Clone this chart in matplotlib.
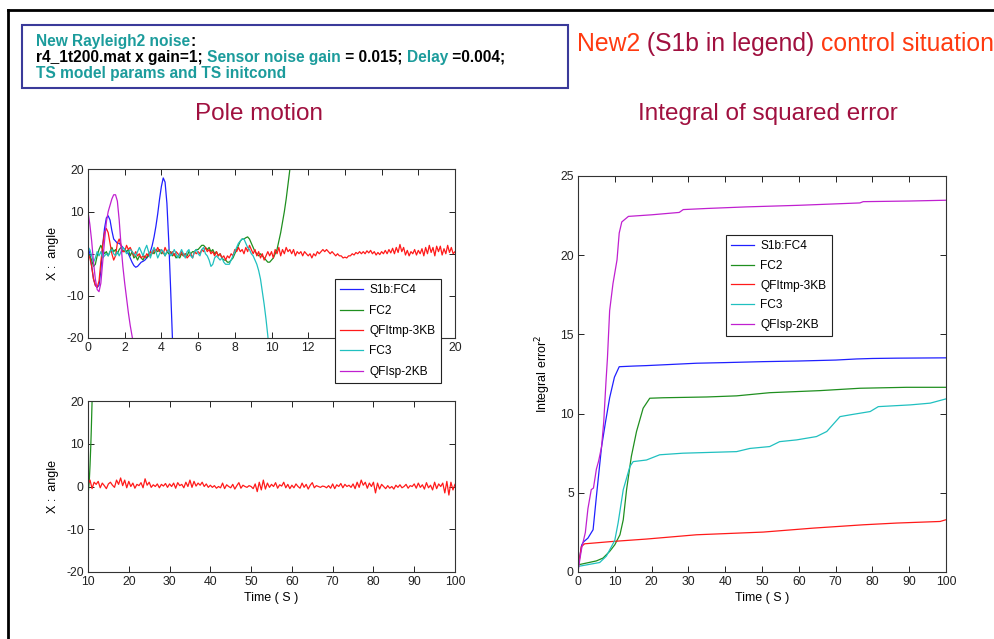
import numpy as np
import matplotlib
matplotlib.use("Agg")
import matplotlib.pyplot as plt
from matplotlib.lines import Line2D
from matplotlib.patches import Rectangle

plt.rcParams["axes.unicode_minus"] = False

# ---------------- data ----------------
labels = ["S1b:FC4", "FC2", "QFItmp-3KB", "FC3", "QFIsp-2KB"]
colors = ["#2020ff", "#1f8f1f", "#ff1a1a", "#20c0c0", "#c020d0"]

# Pole motion, first 20 s (step 0.1 s)
blue_top = [2, 0, -3, -6, -7.5, -8, -7.5, -4, 2, 6, 8.5, 9, 8, 5.5, 3.5, 3, 2.5, 2.5, 2, 1.5,
            1, 0.5, 0, -1, -2, -2.8, -3.2, -3, -2.5, -2, -1.8, -1.5, -1, -0.5, 0.5, 2, 4, 6.5, 9.5, 13,
            16, 18, 17, 12, 3, -8, -20, -27]
green_top = [0, -0.5, -1.5, -3, -2.5, -0.5, 1, 2, 1, 0, 0.5, -0.5, 0.5, 1.5, 0.5, 1, 0, 1, 1.5, 0.5,
             1, 0.5, 1, -0.5, 0.5, -1, -0.5, -1.5, -0.5, -1, -1.5, -0.5, -1, 0, -0.5, 0.5, 0, 1, 0.5, 1,
             0, 0.5, -0.5, 0.5, 0, 0.5, -0.5, 0, -1, -0.5, -1, 0, -0.5, 0, -0.5, 0.5, 0, 0.5, 0.5, 1,
             1, 1.5, 2, 2, 1.5, 1, 1.5, 0.5, 1, 0, 0.5, -0.5, 0, -1, -1.5, -1.5, -2, -2, -1.5, -1,
             0, 1, 2, 3, 3.5, 3.5, 3.8, 4, 3.5, 2.5, 1.5, 0.5, 0, -0.5, 0, -0.5, -1, -1.5, -2, -2,
             -1.5, -1, 0, 1, 3, 5, 7.5, 10, 13, 16.5, 20, 24]
red_top = [0, -1, -3, -6, -7.5, -8, -6.5, -2, 2, 5, 6, 5, 2.5, 0, -1.5, -0.5, 2.5, 3.5, 2, 0.5,
           0.5, 2, 1, 1.5, 0.5, -0.5, 0.5, -0.5, 0, -1, -0.5, -1, 0, -0.5, 0.5, 0, 1, 0.5, 1.5, 0.5,
           1, 0, 1.5, 0.5, 1, 0, 0.5, -0.5, 0.5, 0, -0.5, 0.5, -0.5, 0, -1, -0.5, 0, -1, 0.5, 0,
           0.5, 0, 1, 0.5, 1.5, 0.5, 1, 0, 0.5, -0.5, 0.5, -0.5, 0, -1, -0.5, -1.5, -0.5, -1, 0, -0.5,
           1, 0.5, 1.5, 0.5, 1, 0, 1.5, 0.5, 2, 1, 0, 1, -0.5, 0.5, -1, 0, -1.5, -0.5, 0.5, -0.5,
           0.5, -1, 1, 0, 1.5, -0.5, 1, 0, 1.5, 0.5, 1, 0, 1, -0.5, 0.5, 0, 0.5, -0.5, 0.5, 0,
           -0.5, 0, -1, 0, -0.5, 0.5, 0, 0.5, 1, 0.5, 1, 0.5, 0, 0.5, 0, -0.5, 0, -0.5, -0.5, -1,
           -0.8, -1, -0.5, -0.5, 0, -0.3, 0.3, 0, 0.5, 0, 0.5, 0, 0.7, 0.2, 0.8, 0, 0.5, -0.3, 0.3, -0.2,
           0.5, 0, 0.8, 0, 1, 0.2, 1.3, 0, 1.5, 0.3, 2.2, 0.5, 1.5, -0.3, 0.8, -0.5, 0.5, 0, 1, -0.3,
           0.8, 0, 1.2, -0.5, 1.5, 0, 2, 0.3, 1.5, -0.5, 1.8, 0.5, 1.8, -0.3, 1.2, 0, 2, 0.3, 1.5, 0,
           0.5]
cyan_top = [1.5, 1, -0.5, -2, -1, 0.5, -0.5, 0.5, -1, -0.5, 0, -0.5, 0.5, 1, 0, -0.5, 0.5, -0.5, 0.5, 1.5,
            1, 0, 0.5, 1, 0.5, 0, -0.5, 0.5, 1.5, 0.5, -0.5, 1, 2, 0.5, -1, 0.5, 1.5, 0.5, -1, 0,
            1, 0.5, -0.5, 0.5, 1, -0.5, 0, 1, 0, -1, 0, 1, 0, -1, 0.5, 1, -0.5, -1, 0.5, 1,
            0, -0.5, 1, 1.5, 0, -0.5, -1.5, -3, -2.5, -1, -0.5, -1, -1.5, -1, -2, -2.5, -2.5, -2.5, -1.5, -0.5,
            0.5, 1.5, 2.5, 3, 3.5, 3.5, 2.5, 1.5, 1, 0, -0.5, -1.5, -2.5, -4, -6, -9, -12, -15.5, -19.5, -24]
magenta_top = [10, 7, 3, -2, -6, -8.5, -9, -7, -2, 3, 7.5, 10, 11.5, 13, 14, 14, 12.5, 8, 2, -3,
               -7, -10.5, -14, -17, -19.5, -22]

# Pole motion, 10-100 s (step 0.5 s)
red_bot = [0.5, 1.5, -0.5, 1.0, 0.5, 1.2, -0.3, 0.8, 0.2, -0.5, 0.6, 1.0, 0.3, -0.2, 1.5, 0.5, 2.0, 0.2, 1.5, -0.3,
           1.2, 0.0, 0.8, -0.4, 0.5, 0.2, 0.9, -0.3, 1.8, 0.3, 1.0, -0.2, 0.4, 0.0, 0.6, -0.3, 0.5, 0.1, 0.7, -0.2,
           0.6, 0.0, 0.8, -0.4, 0.9, 0.2, 0.5, -0.3, 1.0, 0.0, 1.5, -0.2, 1.2, 0.1, 0.8, 0.3, 1.0, 0.0, 0.6, -0.2,
           0.3, -0.2, 0.2, -0.4, 0.0, -0.3, 0.8, -0.5, 0.4, 0.0, -0.3, 0.5, -0.6, 0.2, 0.9, -0.4, 0.3, 0.0, -0.2, 0.2,
           0.0, -0.5, 0.6, -1.2, 1.0, -0.8, 1.5, -0.6, 0.8, -0.2, 0.5, 0.0, 0.9, -0.4, 0.4, 0.1, 1.0, -0.3, 0.5, -0.5,
           0.3, -0.3, 0.6, 0.0, -0.4, 0.8, -0.2, 0.5, -0.6, 0.3, 0.9, -0.3, 0.2, 0.0, -0.2, 0.1, 0.0, -0.3, 0.2, -0.4,
           0.6, -0.5, 0.4, 0.0, 0.7, -0.3, 0.5, 0.0, 0.3, -0.2, 0.6, -0.5, 1.0, -0.2, 1.5, 0.3, 1.0, -0.4, 0.8, 0.0,
           1.0, -1.5, 0.8, -0.6, 0.5, 0.0, -0.5, 0.2, -0.4, 0.0, -0.6, 0.3, -0.2, 0.4, -0.3, 0.0, 0.5, -0.4, 0.2, 0.0,
           0.6, -0.4, 0.8, -0.2, 0.4, -0.6, 0.9, -0.3, 0.3, -0.8, 1.0, -0.5, 0.6, 0.0, 0.8, -1.5, 1.2, -2.0, 1.0, -0.8,
           0.5]

# Integral of squared error
blue_int_t = [0, 0.5, 1.0, 1.5, 2.7, 4.1, 5.0, 6.4, 7.5, 8.6, 9.9, 11.2, 15, 18.6, 25, 32.2, 40, 50.3, 60, 70, 75.7, 80, 86.6, 100]
blue_int = [0.5, 1.0, 1.7, 1.9, 2.14, 2.67, 4.77, 7.9, 9.5, 11.0, 12.3, 12.96, 13.0, 13.03, 13.1, 13.18, 13.22, 13.28, 13.32, 13.38, 13.45, 13.48, 13.5, 13.52]
green_int_t = [0, 2, 5.0, 6.8, 8.6, 10, 11.4, 12.3, 13.2, 14.5, 15.9, 17.7, 19.5, 23.1, 35, 43.1, 52.1, 59.4, 65.7, 76.6, 89.3, 100]
green_int = [0.45, 0.55, 0.7, 0.88, 1.3, 1.72, 2.35, 3.3, 5.2, 7.3, 8.87, 10.34, 10.97, 11.0, 11.05, 11.12, 11.32, 11.39, 11.45, 11.6, 11.66, 11.66]
red_int_t = [0, 0.9, 1.8, 9.5, 18.6, 32.2, 50.3, 63.9, 77.5, 86.6, 98.4, 100]
red_int = [0.15, 1.6, 1.78, 1.93, 2.08, 2.35, 2.52, 2.77, 2.98, 3.09, 3.19, 3.3]
cyan_int_t = [0, 5.9, 7.7, 10, 10.9, 12.3, 14.1, 15, 18.6, 22.2, 28.5, 43.1, 46.7, 52.1, 54.8, 59.4, 64.8, 67.6, 71.2, 73.9, 79.4, 81.6, 90.3, 95.7, 100]
cyan_int = [0.35, 0.6, 1.0, 2.0, 3.1, 5.2, 6.66, 6.97, 7.07, 7.4, 7.5, 7.6, 7.8, 7.92, 8.23, 8.34, 8.55, 8.87, 9.81, 9.92, 10.13, 10.44, 10.55, 10.66, 10.93]
magenta_int_t = [0, 0.5, 1.0, 1.4, 2.0, 2.7, 3.6, 4.2, 5.0, 5.6, 6.4, 7.0, 7.6, 8.0, 8.6, 9.5, 10.6, 11.2, 11.9, 13.7, 20, 27.5, 28.6, 35, 45.8, 60, 76.6, 77.5, 90, 100]
magenta_int = [0, 0.8, 1.5, 1.9, 2.5, 4.0, 5.2, 5.3, 6.5, 7.0, 7.9, 9.5, 12.0, 13.5, 16.5, 18.2, 19.7, 21.4, 22.1, 22.45, 22.55, 22.7, 22.88, 22.95, 23.05, 23.15, 23.3, 23.38, 23.42, 23.47]

# ---------------- figure ----------------
W, H = 995, 639
fig = plt.figure(figsize=(W / 100, H / 100), dpi=100)
fig.patch.set_facecolor("white")

narrow = ["Liberation Sans", "DejaVu Sans"]
sans = ["Liberation Sans", "DejaVu Sans"]
TICK_FS = 8.8
LEG_FS = 8.6


def box(l, t, r, b):
    return [l / W, 1 - b / H, (r - l) / W, (b - t) / H]


def style_axes(ax):
    ax.tick_params(direction="in", length=4, width=0.7, top=True, right=True,
                   labelsize=TICK_FS, pad=3, colors="#222222")
    for lab in ax.get_xticklabels() + ax.get_yticklabels():
        lab.set_fontfamily(narrow)
    for s in ax.spines.values():
        s.set_linewidth(0.8)
        s.set_color("#333333")


def t_axis(start, n, step):
    return [start + i * step for i in range(n)]


def make_legend(ax, hs, left, top, spacing):
    lg = ax.legend(handles=hs, loc="upper left", bbox_to_anchor=(left / W, 1 - top / H),
                   bbox_transform=fig.transFigure, borderaxespad=0, fancybox=False,
                   edgecolor="#222222", framealpha=1, prop={"family": narrow, "size": LEG_FS},
                   handlelength=1.9, handletextpad=0.5, labelspacing=spacing, borderpad=0.45)
    lg.get_frame().set_linewidth(0.8)
    lg.set_zorder(10)
    return lg


# top-left
ax1 = fig.add_axes(box(88, 169.5, 455, 338))
series_top = [blue_top, green_top, red_top, cyan_top, magenta_top]
handles = []
for vals, c, lab in zip(series_top, colors, labels):
    tt = t_axis(0.0, len(vals), 0.1)
    h, = ax1.plot(tt, vals, color=c, lw=0.9, label=lab)
    handles.append(h)
ax1.set_xlim(0, 20)
ax1.set_ylim(-20, 20)
ax1.set_xticks(range(0, 21, 2))
ax1.set_yticks([-20, -10, 0, 10, 20])
ax1.set_ylabel("X :  angle", fontsize=9, family=narrow, labelpad=5)
style_axes(ax1)
make_legend(ax1, handles, 335, 279, 0.7)

# bottom-left
ax2 = fig.add_axes(box(88, 401, 455, 572))
ax2.plot(t_axis(0.0, len(green_top), 0.1), green_top, color=colors[1], lw=0.9)
ax2.plot(t_axis(10.0, len(red_bot), 0.5), red_bot, color=colors[2], lw=0.9)
ax2.set_xlim(10, 100)
ax2.set_ylim(-20, 20)
ax2.set_xticks(range(10, 101, 10))
ax2.set_yticks([-20, -10, 0, 10, 20])
ax2.set_ylabel("X :  angle", fontsize=9, family=narrow, labelpad=5)
ax2.set_xlabel("Time ( S )", fontsize=9, family=narrow, labelpad=3)
style_axes(ax2)

# right
ax3 = fig.add_axes(box(578, 176, 946, 572))
int_series = [(blue_int_t, blue_int), (green_int_t, green_int), (red_int_t, red_int),
              (cyan_int_t, cyan_int), (magenta_int_t, magenta_int)]
h3 = []
for (tt, vv), c, lab in zip(int_series, colors, labels):
    h, = ax3.plot(tt, vv, color=c, lw=0.9, label=lab)
    h3.append(h)
ax3.set_xlim(0, 100)
ax3.set_ylim(0, 25)
ax3.set_xticks(range(0, 101, 10))
ax3.set_yticks(range(0, 26, 5))
ax3.set_ylabel("Integral error$^2$", fontsize=9, family=narrow, labelpad=5)
ax3.set_xlabel("Time ( S )", fontsize=9, family=narrow, labelpad=3)
style_axes(ax3)
make_legend(ax3, h3, 726, 235, 0.64)

# titles
maroon = "#a0103f"
fig.text(259 / W, 1 - 114 / H, "Pole motion", ha="center", va="center", fontsize=17.5,
         color=maroon, family=sans)
fig.text(768 / W, 1 - 114 / H, "Integral of squared error", ha="center", va="center",
         fontsize=17.5, color=maroon, family=sans)

# overlay axes for header text
ax0 = fig.add_axes([0, 0, 1, 1], zorder=-1)
ax0.set_xlim(0, W)
ax0.set_ylim(H, 0)
ax0.axis("off")

# outer frame lines
ax0.add_line(Line2D([8, 995], [10, 10], color="black", lw=2))
ax0.add_line(Line2D([8, 8], [10, 639], color="black", lw=2))

# info box
ax0.add_patch(Rectangle((22, 25), 546, 63, fill=False, edgecolor="#3a3a9a", lw=1.5))
teal = "#1c9c9c"
hdr = dict(fontsize=11.2, fontweight="bold", family=sans)


def chain(pieces, x, y, **kw):
    prev = None
    for txt, col in pieces:
        if prev is None:
            prev = ax0.text(x, y, txt, color=col, ha="left", va="bottom", **kw)
        else:
            prev = ax0.annotate(txt, xy=(1, 0), xycoords=prev, color=col,
                                ha="left", va="bottom", **kw)
    return prev


chain([("New Rayleigh2 noise", teal), (":", "black")], 36, 49, **hdr)
chain([("r4_1t200.mat x gain=1; ", "black"), ("Sensor noise gain", teal),
       (" = 0.015; ", "black"), ("Delay", teal), (" =0.004;", "black")], 36, 65, **hdr)
chain([("TS model params and TS initcond", teal)], 36, 81, **hdr)

orange = "#ff3a10"
chain([("New2", orange), (" (S1b in legend) ", maroon), ("control situation", orange)],
      577, 56, fontsize=17.8, family=sans)

fig.savefig("out.png", dpi=100)
